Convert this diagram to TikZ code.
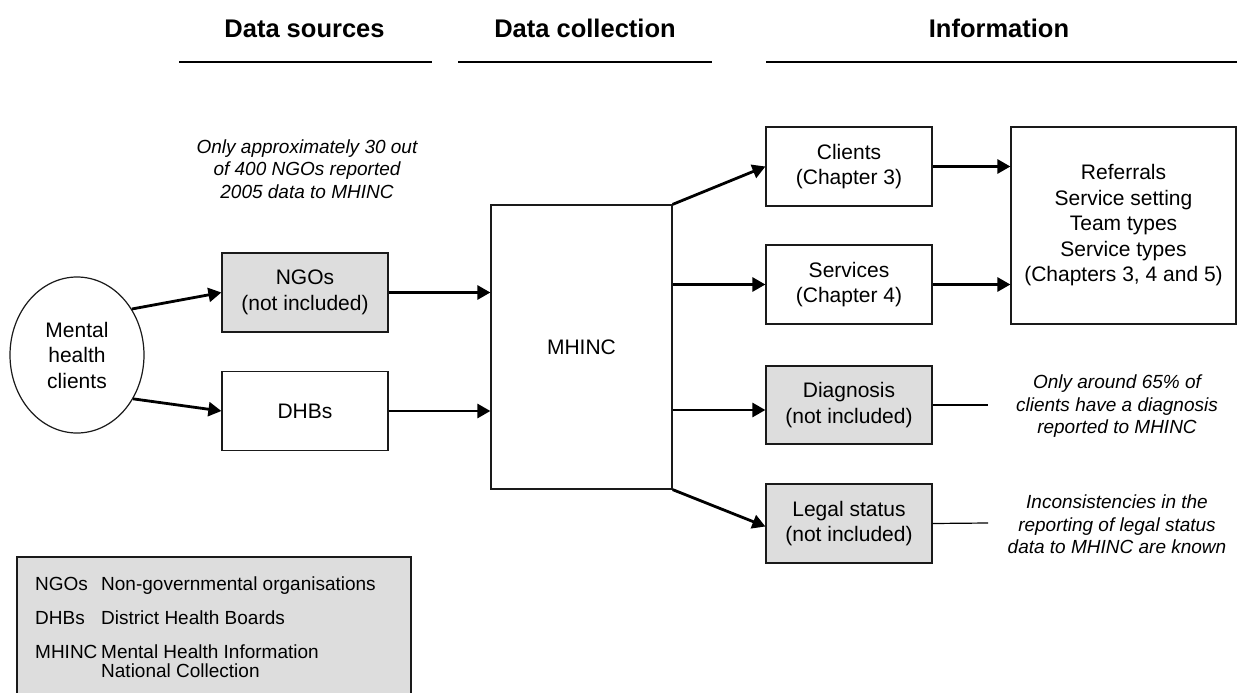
\documentclass[tikz,border=0pt]{standalone}
\usepackage{fontspec}
\setmainfont{Liberation Sans}
\usetikzlibrary{arrows.meta,shapes.geometric}
\definecolor{boxgray}{HTML}{DDDDDD}
\definecolor{edgecol}{HTML}{1A1A1A}
\begin{document}
\begin{tikzpicture}[x=1pt,y=-1pt,
  box/.style={draw=edgecol, line width=1.2pt, minimum width=166pt, minimum height=79pt, inner sep=0pt, align=center, font=\fontsize{21}{25.5}\selectfont},
  greybox/.style={fill=boxgray},
  arr/.style={line width=2.8pt, -{Triangle[length=13pt,width=14pt]}},
  thinline/.style={line width=1.2pt},
  note/.style={align=center, inner sep=0pt, font=\itshape\fontsize{19}{22.5}\selectfont},
  head/.style={anchor=base, inner sep=0pt, font=\bfseries\fontsize{25.5}{29}\selectfont},
  headline/.style={line width=2.3pt},
  legtext/.style={anchor=base west, inner sep=0pt, font=\fontsize{19}{20}\selectfont}
]
\useasboundingbox (0,0) rectangle (1237,693);

% headers
\node[head] (h1) at (304.5,37.5) {Data sources};
\node[head] (h2) at (585,37.5) {Data collection};
\node[head] (h3) at (999,37.5) {Information};
\draw[headline] (179,62) -- (432,62);
\draw[headline] (458,62) -- (712,62);
\draw[headline] (766,62) -- (1237,62);

% nodes
\node[ellipse, draw=edgecol, line width=1.2pt, minimum width=134pt, minimum height=156pt, inner sep=0pt, align=center, font=\fontsize{21}{25.5}\selectfont] (clients0) at (77,355) {Mental\\health\\clients};
\node[box, greybox] (ngos) at (305,292.5) {NGOs\\(not included)};
\node[box] (dhbs) at (305,411) {DHBs};
\node[box, minimum width=181pt, minimum height=284pt] (mhinc) at (581.5,347) {MHINC};
\node[box] (clients) at (849,166.5) {Clients\\(Chapter 3)};
\node[box] (services) at (849,284.5) {Services\\(Chapter 4)};
\node[box, greybox, minimum height=78pt] (diagnosis) at (849,405) {Diagnosis\\(not included)};
\node[box, greybox] (legal) at (849,523.5) {Legal status\\(not included)};
\node[box, minimum width=225pt, minimum height=197pt] (info) at (1123.5,225.5) {Referrals\\Service setting\\Team types\\Service types\\(Chapters 3, 4 and 5)};

% notes
\node[note] (ngonote) at (307,169) {Only approximately 30 out\\of 400 NGOs reported\\2005 data to MHINC};
\node[note] (dgnote) at (1117,406.5) {Only around 65\% of\\clients have a diagnosis\\reported to MHINC};
\node[note] (lgnote) at (1117,524.5) {Inconsistencies in the\\reporting of legal status\\data to MHINC are known};
\coordinate (dgend) at (988,405);
\coordinate (lgend) at (988,523);
\coordinate (dgin) at ([yshift=-5pt]diagnosis.west);
\coordinate (lgin) at ([yshift=-3pt]legal.west);

% connectors
\draw[arr] (clients0.40) -- (ngos.west);
\draw[arr] (clients0.-38) -- (dhbs.west);
\draw[arr] (ngos.east) -- (mhinc.west |- ngos.east);
\draw[arr] (dhbs.east) -- (mhinc.west |- dhbs.east);
\draw[arr] (mhinc.north east) -- (clients.west);
\draw[arr] (mhinc.east |- services.west) -- (services.west);
\draw[arr] (mhinc.east |- dgin) -- (dgin);
\draw[arr] (mhinc.south east) -- (lgin);
\draw[arr] (clients.east) -- (info.west |- clients.east);
\draw[arr] (services.east) -- (info.west |- services.east);
\draw[thinline] (diagnosis.east) -- (dgend);
\draw[thinline] (legal.east) -- (lgend);

% legend
\node[draw=edgecol, fill=boxgray, line width=1.2pt, minimum width=394pt, minimum height=150pt, inner sep=0pt] (legend) at (214,632) {};
\node[legtext] (l1a) at (35,590) {NGOs};
\node[legtext] (l1b) at (101,590) {Non-governmental organisations};
\node[legtext] (l2a) at (35,624) {DHBs};
\node[legtext] (l2b) at (101,624) {District Health Boards};
\node[legtext] (l3a) at (35,658) {MHINC};
\node[legtext] (l3b) at (101,658) {Mental Health Information};
\node[legtext] (l3c) at (101,677.5) {National Collection};
\end{tikzpicture}
\end{document}
